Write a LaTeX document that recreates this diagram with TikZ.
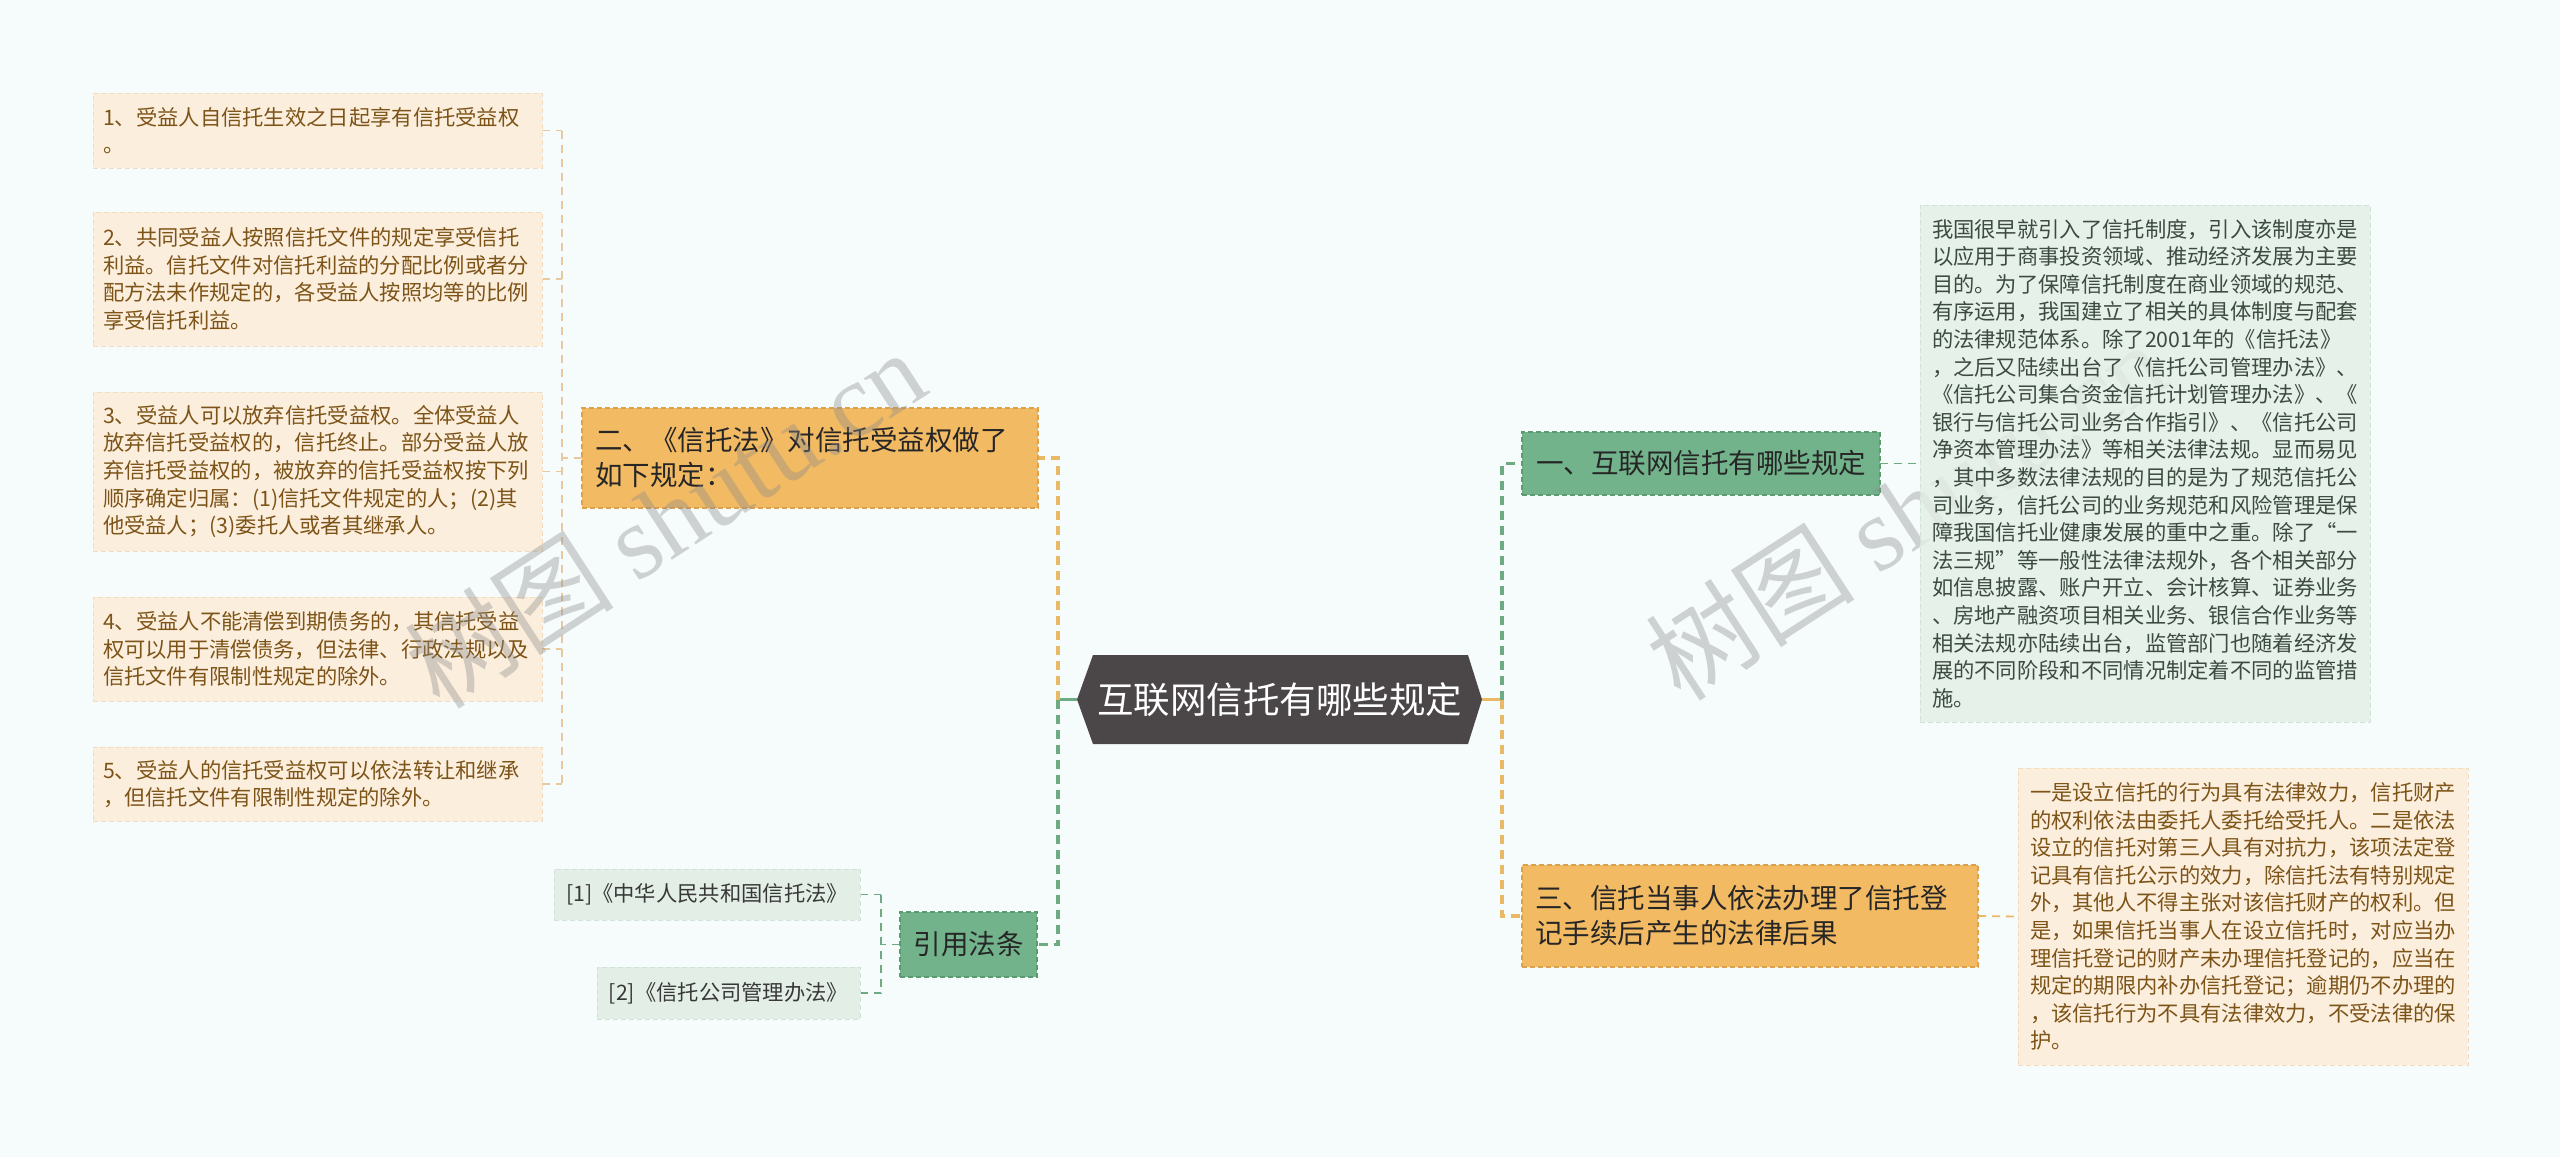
\documentclass[tikz,border=0pt]{standalone}
\usepackage{fontspec}
\setmainfont{Noto Sans CJK SC}
\newfontfamily\wmserif{Liberation Serif}
\pgfdeclarelayer{bg}
\pgfsetlayers{bg,main}
\definecolor{pagebg}{HTML}{F6FCFC}
\definecolor{leafbg}{HTML}{FCEEDD}
\definecolor{leafbd}{HTML}{F2DCBF}
\definecolor{leaftx}{HTML}{7D5418}
\definecolor{orgbg}{HTML}{F2BA63}
\definecolor{orgbd}{HTML}{DDA04C}
\definecolor{grnbg}{HTML}{72B38B}
\definecolor{grnbd}{HTML}{5C9B72}
\definecolor{palegrn}{HTML}{E3EFE6}
\definecolor{palegrnbd}{HTML}{D0E2D6}
\definecolor{grntx}{HTML}{3C4B40}
\definecolor{rootbg}{HTML}{4B4647}
\definecolor{orgline}{HTML}{E9B968}
\definecolor{orglight}{HTML}{E8C99E}
\definecolor{grnline}{HTML}{6EAA82}
\definecolor{wm}{HTML}{8C8C8C}
\begin{document}
\begin{tikzpicture}[x=1pt,y=-1pt,
  every node/.style={inner sep=0pt,outer sep=0pt},
  leafbox/.style={fill=leafbg,draw=leafbd,dash pattern=on 5pt off 3pt,line width=1pt,text=leaftx,align=left,inner xsep=10pt,text width=429pt,font=\fontsize{21.3}{27.6}\selectfont},
  notebox/.style={draw=palegrnbd,dash pattern=on 5pt off 3pt,line width=1pt,align=left,inner xsep=12pt,text width=426pt,font=\fontsize{21.3}{27.6}\selectfont},
  refbox/.style={fill=palegrn,draw=palegrnbd,dash pattern=on 5pt off 3pt,line width=1pt,text=black!78,font=\fontsize{21.3}{27.6}\selectfont},
  orgbox/.style={fill=orgbg,draw=orgbd,dash pattern=on 5pt off 3pt,line width=1.2pt,text=black!85,align=left,inner xsep=13pt,font=\fontsize{27.5}{35}\selectfont},
  grnbox/.style={fill=grnbg,draw=grnbd,dash pattern=on 5pt off 3pt,line width=1.2pt,text=black!85,font=\fontsize{27.5}{35}\selectfont},
  oline/.style={draw=orgline,line width=3.5pt,dash pattern=on 9pt off 6pt},
  olight/.style={draw=orglight,line width=1.6pt,dash pattern=on 8pt off 6pt},
  othin/.style={draw=orgline,line width=1.8pt,dash pattern=on 8pt off 6pt},
  gline/.style={draw=grnline,line width=3.5pt,dash pattern=on 9pt off 6pt},
  glight/.style={draw=grnline,line width=1.6pt,dash pattern=on 8pt off 6pt},
  wmark/.style={text=wm,opacity=0.38,rotate=33,font=\fontsize{105}{110}\selectfont}
]
\useasboundingbox (0,0) rectangle (2560,1157);
\begin{pgfonlayer}{bg}
\fill[pagebg] (0,0) rectangle (2560,1157);
\end{pgfonlayer}

% leaves (left)
\node[leafbox,minimum height=75pt] (l1) at (317.5,130.5) {1、受益人自信托生效之日起享有信托受益权\\。};
\node[leafbox,minimum height=134pt] (l2) at (317.5,279) {2、共同受益人按照信托文件的规定享受信托\\利益。信托文件对信托利益的分配比例或者分\\配方法未作规定的，各受益人按照均等的比例\\享受信托利益。};
\node[leafbox,minimum height=159pt] (l3) at (317.5,471.5) {3、受益人可以放弃信托受益权。全体受益人\\放弃信托受益权的，信托终止。部分受益人放\\弃信托受益权的，被放弃的信托受益权按下列\\顺序确定归属：(1)信托文件规定的人；(2)其\\他受益人；(3)委托人或者其继承人。};
\node[leafbox,minimum height=104pt] (l4) at (317.5,649) {4、受益人不能清偿到期债务的，其信托受益\\权可以用于清偿债务，但法律、行政法规以及\\信托文件有限制性规定的除外。};
\node[leafbox,minimum height=74pt] (l5) at (317.5,784) {5、受益人的信托受益权可以依法转让和继承\\，但信托文件有限制性规定的除外。};

% branch nodes
\node[orgbox,text width=430pt,minimum height=100pt] (n2) at (810,458) {二、《信托法》对信托受益权做了\\如下规定：};
\node[grnbox,minimum width=137pt,minimum height=65pt] (yy) at (968.5,944.5) {引用法条};
\node[refbox,minimum width=306pt,minimum height=51pt] (r1) at (707,894.5) {[1]《中华人民共和国信托法》};
\node[refbox,minimum width=263pt,minimum height=52pt] (r2) at (728.5,993) {[2]《信托公司管理办法》};

\node[grnbox,minimum width=358pt,minimum height=63pt] (n1) at (1701,463.5) {一、互联网信托有哪些规定};
\node[orgbox,text width=430pt,minimum height=102pt] (n3) at (1750,916) {三、信托当事人依法办理了信托登\\记手续后产生的法律后果};

% right watermark lies under the first note box
\node[wmark] (wm2) at (1906,510) {树图 {\wmserif shutu.cn}};

\node[notebox,fill=palegrn,fill opacity=0.82,text opacity=1,text=grntx,minimum height=517pt] (t1) at (2145,463.5) {我国很早就引入了信托制度，引入该制度亦是\\以应用于商事投资领域、推动经济发展为主要\\目的。为了保障信托制度在商业领域的规范、\\有序运用，我国建立了相关的具体制度与配套\\的法律规范体系。除了2001年的《信托法》\\，之后又陆续出台了《信托公司管理办法》、\\《信托公司集合资金信托计划管理办法》、《\\银行与信托公司业务合作指引》、《信托公司\\净资本管理办法》等相关法律法规。显而易见\\，其中多数法律法规的目的是为了规范信托公\\司业务，信托公司的业务规范和风险管理是保\\障我国信托业健康发展的重中之重。除了“一\\法三规”等一般性法律法规外，各个相关部分\\如信息披露、账户开立、会计核算、证券业务\\、房地产融资项目相关业务、银信合作业务等\\相关法规亦陆续出台，监管部门也随着经济发\\展的不同阶段和不同情况制定着不同的监管措\\施。};
\node[notebox,fill=leafbg,draw=leafbd,text=leaftx,minimum height=297pt] (t2) at (2243,916.5) {一是设立信托的行为具有法律效力，信托财产\\的权利依法由委托人委托给受托人。二是依法\\设立的信托对第三人具有对抗力，该项法定登\\记具有信托公示的效力，除信托法有特别规定\\外，其他人不得主张对该信托财产的权利。但\\是，如果信托当事人在设立信托时，对应当办\\理信托登记的财产未办理信托登记的，应当在\\规定的期限内补办信托登记；逾期仍不办理的\\，该信托行为不具有法律效力，不受法律的保\\护。};

% root
\node[text=white,font=\fontsize{36.5}{40}\selectfont,minimum width=405pt,minimum height=89pt] (root) at (1279.5,699.5) {互联网信托有哪些规定};

\begin{pgfonlayer}{bg}
\fill[rootbg] (root.west) -- ([xshift=16pt]root.north west) -- ([xshift=-14pt]root.north east) -- (root.east) -- ([xshift=-14pt]root.south east) -- ([xshift=16pt]root.south west) -- cycle;
% left bracket for leaves
\coordinate (bx) at (562,458);
\draw[olight] (bx |- l1.east) -- (bx |- l5.east);
\foreach \n in {l1,l2,l3,l4,l5} {\draw[olight] (\n.east) -- (\n.east -| bx);}
\draw[olight] (n2.west) -- (bx);
% root left
\coordinate (rl) at (1058,699.5);
\draw[draw=grnline,line width=3.5pt] (root.west) -- (rl);
\draw[oline] (rl) -- (rl |- n2.east) -- (n2.east);
\draw[gline] (rl) -- (rl |- yy.east) -- (yy.east);
% refs bracket
\coordinate (cx) at (881,944.5);
\draw[glight] (yy.west) -- (cx);
\draw[glight] (cx |- r1.east) -- (cx |- r2.east);
\draw[glight] (r1.east) -- (r1.east -| cx);
\draw[glight] (r2.east) -- (r2.east -| cx);
% root right
\coordinate (rr) at (1502,699.5);
\draw[draw=orgline,line width=3.5pt] (root.east) -- (rr);
\draw[gline] (rr) -- (rr |- n1.west) -- (n1.west);
\draw[oline] (rr) -- (rr |- n3.west) -- (n3.west);
\draw[glight] (n1.east) -- (t1.west);
\draw[othin] (n3.east) -- (t2.west);
\end{pgfonlayer}

% left watermark on top
\node[wmark] (wm1) at (665,518) {树图 {\wmserif shutu.cn}};
\end{tikzpicture}
\end{document}
